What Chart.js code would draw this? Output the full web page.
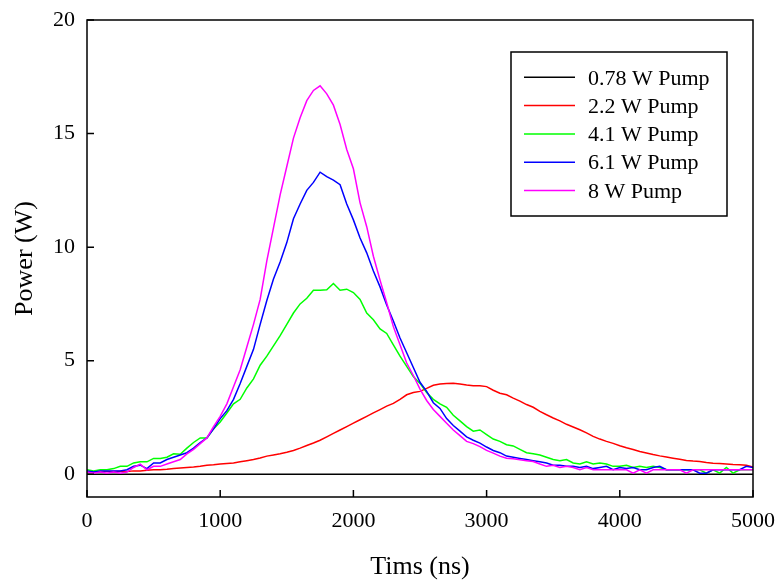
<!DOCTYPE html>
<html>
<head>
<meta charset="utf-8">
<script src="https://cdn.jsdelivr.net/npm/chart.js@4/dist/chart.umd.min.js"></script>
<style>
  html, body { margin: 0; padding: 0; background: #fff; }
  #wrap { width: 776px; height: 580px; }
</style>
</head>
<body>
<div id="wrap"><canvas id="c" width="776" height="580"></canvas></div>
<script>
// ---- data ----
const times = [0,50,100,150,200,250,300,350,400,450,500,550,600,650,700,750,800,850,900,950,
  1000,1050,1100,1150,1200,1250,1300,1350,1400,1450,1500,1550,1600,1650,1700,1750,1800,1850,1900,1950,
  2000,2050,2100,2150,2200,2250,2300,2350,2400,2450,2500,2550,2600,2650,2700,2750,2800,2850,2900,2950,
  3000,3050,3100,3150,3200,3250,3300,3350,3400,3450,3500,3550,3600,3650,3700,3750,3800,3850,3900,3950,
  4000,4050,4100,4150,4200,4250,4300,4350,4400,4450,4500,4550,4600,4650,4700,4750,4800,4850,4900,4950,5000];

const seriesNames = ["0.78 W Pump", "2.2 W Pump", "4.1 W Pump", "6.1 W Pump", "8 W Pump"];

const pump078 = [0,0,0,0,0,0,0,0,0,0, 0,0,0,0,0,0,0,0,0,0, 0,0,0,0,0,0,0,0,0,0, 0,0,0,0,0,0,0,0,0,0,
  0,0,0,0,0,0,0,0,0,0, 0,0,0,0,0,0,0,0,0,0, 0,0,0,0,0,0,0,0,0,0, 0,0,0,0,0,0,0,0,0,0,
  0,0,0,0,0,0,0,0,0,0, 0,0,0,0,0,0,0,0,0,0, 0];

const pump22 = [0.12,0.10,0.12,0.12,0.12,0.13,0.12,0.15,0.15,0.18,
  0.20,0.20,0.22,0.25,0.28,0.30,0.32,0.35,0.40,0.42,
  0.45,0.48,0.50,0.55,0.60,0.65,0.72,0.80,0.85,0.90,
  0.97,1.05,1.15,1.27,1.38,1.50,1.65,1.80,1.95,2.10,
  2.25,2.40,2.55,2.70,2.85,3.00,3.12,3.30,3.50,3.60,
  3.65,3.78,3.92,3.97,4.00,4.01,3.97,3.93,3.90,3.90,
  3.86,3.70,3.57,3.50,3.35,3.22,3.07,2.95,2.77,2.62,
  2.48,2.35,2.20,2.08,1.96,1.82,1.67,1.55,1.45,1.36,
  1.26,1.17,1.09,1.00,0.94,0.87,0.81,0.76,0.71,0.66,
  0.61,0.58,0.56,0.52,0.49,0.47,0.45,0.43,0.42,0.40,0.32];

const pump41 = [0.20,0.15,0.20,0.20,0.25,0.35,0.35,0.50,0.55,0.55,
  0.70,0.70,0.75,0.90,0.88,1.15,1.40,1.60,1.60,2.00,
  2.30,2.70,3.10,3.30,3.80,4.20,4.80,5.20,5.65,6.10,
  6.60,7.10,7.50,7.75,8.10,8.10,8.12,8.40,8.10,8.15,
  8.00,7.70,7.10,6.80,6.40,6.20,5.70,5.20,4.75,4.30,
  4.00,3.60,3.30,3.10,2.95,2.60,2.35,2.10,1.90,1.95,
  1.75,1.55,1.45,1.30,1.25,1.10,0.95,0.90,0.85,0.75,
  0.65,0.60,0.65,0.50,0.45,0.55,0.45,0.50,0.45,0.35,
  0.35,0.40,0.30,0.35,0.30,0.35,0.30,0.20,0.20,0.20,
  0.20,0.20,0.20,0.05,0.20,0.05,0.30,0.05,0.20,0.20,0.20];

const pump61 = [0.15,0.10,0.15,0.15,0.15,0.15,0.20,0.35,0.40,0.25,
  0.50,0.50,0.65,0.75,0.85,0.95,1.15,1.40,1.60,2.00,
  2.45,2.80,3.30,4.00,4.75,5.50,6.60,7.65,8.60,9.35,
  10.20,11.25,11.90,12.50,12.85,13.30,13.10,12.95,12.75,11.90,
  11.20,10.40,9.75,8.95,8.25,7.45,6.75,6.00,5.35,4.70,
  4.05,3.65,3.15,2.90,2.45,2.15,1.90,1.65,1.50,1.37,
  1.20,1.05,0.95,0.80,0.75,0.70,0.65,0.60,0.55,0.50,
  0.40,0.40,0.35,0.35,0.30,0.35,0.25,0.30,0.35,0.20,
  0.30,0.25,0.30,0.20,0.20,0.30,0.35,0.20,0.20,0.20,
  0.20,0.20,0.05,0.05,0.20,0.20,0.20,0.20,0.20,0.35,0.30];

const pump8 = [0.10,0.05,0.10,0.05,0.10,0.05,0.10,0.30,0.45,0.20,
  0.35,0.35,0.45,0.55,0.65,0.90,1.10,1.35,1.60,2.10,
  2.55,3.10,3.85,4.60,5.60,6.60,7.70,9.40,10.85,12.30,
  13.55,14.80,15.70,16.45,16.90,17.10,16.75,16.25,15.40,14.30,
  13.45,11.95,10.90,9.60,8.55,7.55,6.50,5.70,4.90,4.35,
  3.75,3.25,2.85,2.55,2.25,1.95,1.70,1.45,1.35,1.22,
  1.05,0.93,0.80,0.71,0.68,0.64,0.60,0.56,0.45,0.35,
  0.40,0.30,0.35,0.30,0.20,0.30,0.20,0.20,0.20,0.20,
  0.20,0.20,0.05,0.20,0.05,0.20,0.20,0.20,0.20,0.20,
  0.05,0.20,0.20,0.20,0.20,0.20,0.20,0.20,0.20,0.20,0.20];

const xTicks = [0, 1000, 2000, 3000, 4000, 5000];
const yTicks = [0, 5, 10, 15, 20];
const xTitle = "Tims (ns)";
const yTitle = "Power (W)";

// ---- chart ----
const FONT = '"Liberation Serif", "Times New Roman", serif';
Chart.defaults.font.family = FONT;
Chart.defaults.color = '#000';

const colors = ['#000000', '#ff0000', '#00ff00', '#0000ff', '#ff00ff'];
const values = [pump078, pump22, pump41, pump61, pump8];
const drawOrder = [4, 3, 2, 1, 0];

const datasets = values.map((v, i) => ({
  label: seriesNames[i],
  data: times.map((t, k) => ({ x: t, y: v[k] })),
  borderColor: colors[i],
  backgroundColor: colors[i],
  borderWidth: 1.5,
  pointRadius: 0,
  tension: 0,
  fill: false,
  order: drawOrder[i]
}));

const framePlugin = {
  id: 'frame',
  afterDatasetsDraw(chart) {
    const { ctx, chartArea: a, scales } = chart;
    const x = scales.x, y = scales.y;
    ctx.save();
    ctx.strokeStyle = '#000';
    ctx.lineWidth = 1.5;
    ctx.strokeRect(a.left, a.top, a.right - a.left, a.bottom - a.top);
    ctx.beginPath();
    x.ticks.forEach(t => {
      const px = x.getPixelForValue(t.value);
      ctx.moveTo(px, a.bottom); ctx.lineTo(px, a.bottom - 7);
    });
    y.ticks.forEach(t => {
      const py = y.getPixelForValue(t.value);
      ctx.moveTo(a.left, py); ctx.lineTo(a.left + 7, py);
    });
    ctx.stroke();

    // axis titles
    ctx.fillStyle = '#000';
    ctx.font = '26px ' + FONT;
    ctx.textAlign = 'center';
    ctx.textBaseline = 'alphabetic';
    ctx.fillText(xTitle, (a.left + a.right) / 2, 574);
    ctx.save();
    ctx.translate(31.5, (a.top + a.bottom) / 2);
    ctx.rotate(-Math.PI / 2);
    ctx.fillText(yTitle, 0, 0);
    ctx.restore();

    // legend box
    const lx = 511, ly = 52, lw = 216, lh = 164;
    ctx.fillStyle = '#fff';
    ctx.fillRect(lx, ly, lw, lh);
    ctx.strokeStyle = '#000';
    ctx.lineWidth = 1.5;
    ctx.strokeRect(lx, ly, lw, lh);
    ctx.font = '22px ' + FONT;
    ctx.textAlign = 'left';
    ctx.textBaseline = 'middle';
    chart.data.datasets.forEach((ds, i) => {
      const rowY = 77.3 + 28.3 * i;
      ctx.strokeStyle = ds.borderColor;
      ctx.lineWidth = 1.5;
      ctx.beginPath();
      ctx.moveTo(524, rowY); ctx.lineTo(575, rowY);
      ctx.stroke();
      ctx.fillStyle = '#000';
      ctx.fillText(ds.label, 588, rowY + 1.5);
    });
    ctx.restore();
  }
};

new Chart(document.getElementById('c'), {
  type: 'line',
  data: { datasets },
  options: {
    responsive: false,
    animation: false,
    layout: { padding: { top: 20, right: 23, left: 0, bottom: 0 } },
    plugins: { legend: { display: false }, tooltip: { enabled: false } },
    scales: {
      x: {
        type: 'linear',
        min: 0, max: 5000,
        grid: { display: false, drawTicks: false },
        border: { display: false },
        ticks: { font: { size: 22 }, color: '#000', padding: 11, maxRotation: 0, callback: v => String(v) },
        afterBuildTicks: s => { s.ticks = xTicks.map(v => ({ value: v })); },
        afterFit: s => { s.height = 83; s.paddingLeft = 0; s.paddingRight = 0; }
      },
      y: {
        type: 'linear',
        min: -1, max: 20,
        grid: { display: false, drawTicks: false },
        border: { display: false },
        ticks: { font: { size: 22 }, color: '#000', padding: 12, callback: v => String(v) },
        afterBuildTicks: s => { s.ticks = yTicks.map(v => ({ value: v })); },
        afterFit: s => { s.width = 87; s.paddingTop = 0; s.paddingBottom = 0; }
      }
    }
  },
  plugins: [framePlugin]
});
</script>
</body>
</html>
